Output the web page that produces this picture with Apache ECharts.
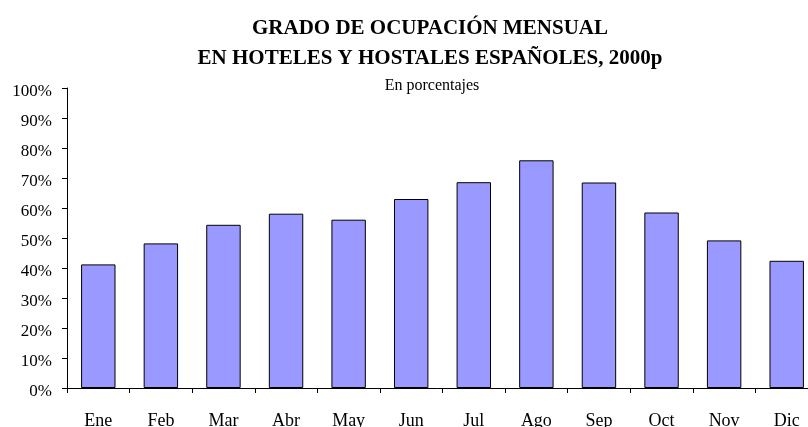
<!DOCTYPE html>
<html>
<head>
<meta charset="utf-8">
<script src="https://cdn.jsdelivr.net/npm/echarts@6/dist/echarts.min.js"></script>
<style>html,body{margin:0;padding:0;background:#fff}#c{width:808px;height:427px}</style>
</head>
<body>
<div id="c"></div>
<script>
const titleText = "GRADO DE OCUPACIÓN MENSUAL\nEN HOTELES Y HOSTALES ESPAÑOLES, 2000p";
const subtitleText = "En porcentajes";
const months = ["Ene","Feb","Mar","Abr","May","Jun","Jul","Ago","Sep","Oct","Nov","Dic"];
const occupancy = [41.2, 48.2, 54.4, 58.1, 56.1, 63.0, 68.6, 75.9, 68.5, 58.5, 49.2, 42.4];

const chart = echarts.init(document.getElementById('c'));
const serif = "'Liberation Serif', 'Times New Roman', serif";
chart.setOption({
  animation: false,
  backgroundColor: '#fff',
  title: [
    {
      text: titleText,
      left: 425, top: 9, textAlign: 'center',
      textStyle: { fontFamily: serif, fontWeight: 'bold', fontSize: 21, color: '#000', lineHeight: 30 }
    },
    {
      text: subtitleText,
      left: 427, top: 73, textAlign: 'center',
      textStyle: { fontFamily: serif, fontWeight: 'normal', fontSize: 16, color: '#000' }
    }
  ],
  grid: { left: 67, right: -10, top: 88, bottom: 39, containLabel: false, outerBoundsMode: 'none' },
  xAxis: {
    type: 'category',
    data: months,
    axisLine: { lineStyle: { color: '#000', width: 1 } },
    axisTick: { show: true, length: 5, lineStyle: { color: '#000' } },
    axisLabel: { color: '#000', fontFamily: serif, fontSize: 18, margin: 24 }
  },
  yAxis: {
    type: 'value',
    min: 0, max: 100, interval: 10,
    axisLine: { show: true, lineStyle: { color: '#000', width: 1 } },
    axisTick: { show: true, length: 5, lineStyle: { color: '#000' } },
    splitLine: { show: false },
    axisLabel: {
      color: '#000', margin: 15,
      formatter: function (v) { return '{a|' + v + '%}'; },
      rich: { a: { fontFamily: serif, fontSize: 17, color: '#000', padding: [8, 0, 0, 0] } }
    }
  },
  series: [{
    type: 'bar',
    data: occupancy,
    barWidth: '55%',
    itemStyle: { color: '#9999FF', borderColor: '#000', borderWidth: 1 }
  }]
});
</script>
</body>
</html>
